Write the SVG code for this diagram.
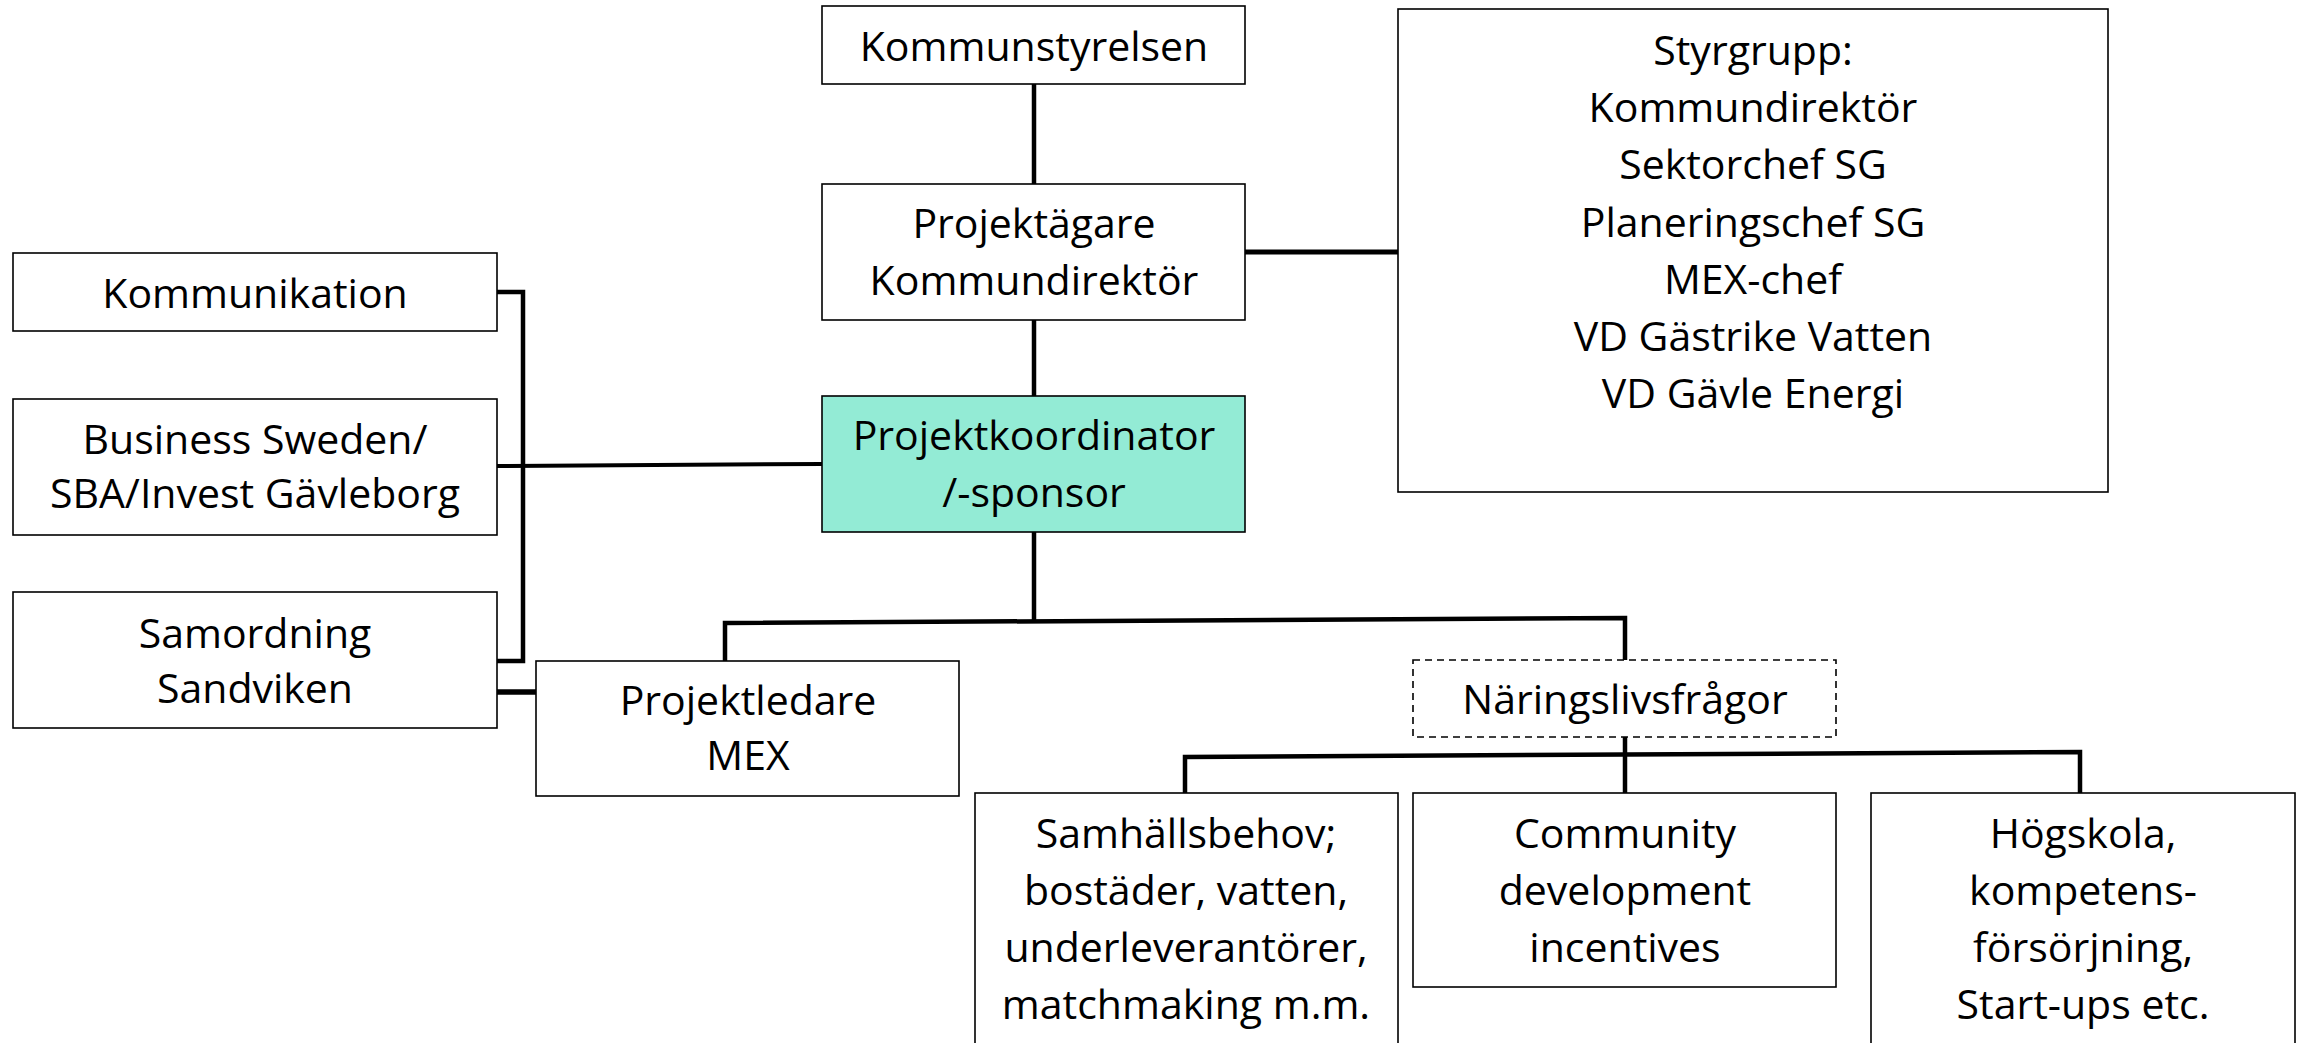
<svg xmlns="http://www.w3.org/2000/svg" width="2303" height="1043" viewBox="0 0 2303 1043">
<style>
.box{fill:#ffffff;stroke:#000000;stroke-width:1.6}
.teal{fill:#93EBD5;stroke:#000000;stroke-width:1.6}
.dash{fill:#ffffff;stroke:#000000;stroke-width:1.6;stroke-dasharray:7 5}
.t{font-family:"Open Sans","Noto Sans","Liberation Sans",sans-serif;font-size:41px;fill:#000000;text-anchor:middle}
.c{fill:none;stroke:#000000;stroke-width:4.5;stroke-linejoin:miter;stroke-linecap:butt}
</style>
<rect width="2303" height="1043" fill="#ffffff"/>
<g id="connectors">
<line class="c" x1="1034" y1="84" x2="1034" y2="184"/>
<line class="c" x1="1034" y1="320" x2="1034" y2="396"/>
<line class="c" x1="1245" y1="252" x2="1398" y2="252" style="stroke-width:5"/>
<line class="c" x1="1034" y1="532" x2="1034" y2="621"/>
<polyline class="c" points="725,661 725,623 1625,618 1625,660"/>
<polyline class="c" points="497,292 523,292 523,661 497,661"/>
<line class="c" x1="497" y1="466" x2="822" y2="464" style="stroke-width:4"/>
<line class="c" x1="497" y1="692" x2="536" y2="692" style="stroke-width:5.5"/>
<line class="c" x1="1625" y1="737" x2="1625" y2="793"/>
<polyline class="c" points="1185,793 1185,757 2080,752 2080,793"/>
</g>
<g id="kommunstyrelsen">
<rect class="box" x="822" y="6" width="423" height="78"/>
<text class="t" x="1034" y="61">Kommunstyrelsen</text>
</g>
<g id="projektagare">
<rect class="box" x="822" y="184" width="423" height="136"/>
<text class="t" x="1034" y="238">Projektägare</text>
<text class="t" x="1034" y="295">Kommundirektör</text>
</g>
<g id="styrgrupp">
<rect class="box" x="1398" y="9" width="710" height="483"/>
<text class="t" x="1753" y="65">Styrgrupp:</text>
<text class="t" x="1753" y="122">Kommundirektör</text>
<text class="t" x="1753" y="179">Sektorchef SG</text>
<text class="t" x="1753" y="237">Planeringschef SG</text>
<text class="t" x="1753" y="294">MEX-chef</text>
<text class="t" x="1753" y="351">VD Gästrike Vatten</text>
<text class="t" x="1753" y="408">VD Gävle Energi</text>
</g>
<g id="projektkoordinator">
<rect class="teal" x="822" y="396" width="423" height="136"/>
<text class="t" x="1034" y="450">Projektkoordinator</text>
<text class="t" x="1034" y="507">/-sponsor</text>
</g>
<g id="kommunikation">
<rect class="box" x="13" y="253" width="484" height="78"/>
<text class="t" x="255" y="308">Kommunikation</text>
</g>
<g id="business">
<rect class="box" x="13" y="399" width="484" height="136"/>
<text class="t" x="255" y="454">Business Sweden/</text>
<text class="t" x="255" y="508">SBA/Invest Gävleborg</text>
</g>
<g id="samordning">
<rect class="box" x="13" y="592" width="484" height="136"/>
<text class="t" x="255" y="648">Samordning</text>
<text class="t" x="255" y="703">Sandviken</text>
</g>
<g id="projektledare">
<rect class="box" x="536" y="661" width="423" height="135"/>
<text class="t" x="748" y="715">Projektledare</text>
<text class="t" x="748" y="770">MEX</text>
</g>
<g id="naringslivsfragor">
<rect class="dash" x="1413" y="660" width="423" height="77"/>
<text class="t" x="1625" y="714">Näringslivsfrågor</text>
</g>
<g id="samhallsbehov">
<rect class="box" x="975" y="793" width="423" height="270"/>
<text class="t" x="1186" y="848">Samhällsbehov;</text>
<text class="t" x="1186" y="905">bostäder, vatten,</text>
<text class="t" x="1186" y="962">underleverantörer,</text>
<text class="t" x="1186" y="1019">matchmaking m.m.</text>
</g>
<g id="community">
<rect class="box" x="1413" y="793" width="423" height="194"/>
<text class="t" x="1625" y="848">Community</text>
<text class="t" x="1625" y="905">development</text>
<text class="t" x="1625" y="962">incentives</text>
</g>
<g id="hogskola">
<rect class="box" x="1871" y="793" width="424" height="270"/>
<text class="t" x="2083" y="848">Högskola,</text>
<text class="t" x="2083" y="905">kompetens-</text>
<text class="t" x="2083" y="962">försörjning,</text>
<text class="t" x="2083" y="1019">Start-ups etc.</text>
</g>
</svg>
